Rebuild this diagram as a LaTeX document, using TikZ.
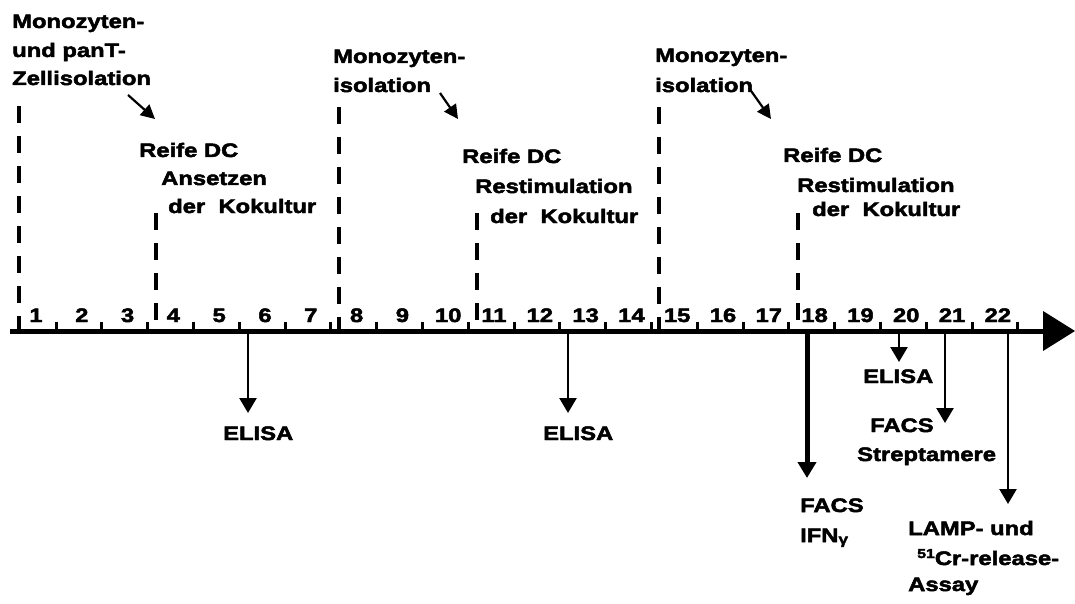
\documentclass[tikz,border=0pt]{standalone}
\usepackage{fontspec}
\newfontfamily\lab[FakeStretch=1.22,BoldFeatures={FakeBold=2.5}]{Liberation Sans}
\usetikzlibrary{arrows.meta}
\begin{document}
\begin{tikzpicture}[x=1pt,y=-1pt,
  txt/.style={anchor=base west,inner sep=0pt,font=\lab\bfseries\fontsize{19.5}{23}\selectfont},
  num/.style={anchor=base,inner sep=0pt,font=\lab\bfseries\fontsize{19.5}{23}\selectfont},
  dline/.style={line width=3.5pt,dash pattern=on 17pt off 13pt},
  tickl/.style={line width=3pt},
  darr/.style={line width=2.5pt,-{Triangle[width=17pt,length=15pt]}},
  thickarr/.style={line width=5pt,-{Triangle[width=18pt,length=16pt]}},
  diag/.style={line width=2.2pt,-{Triangle[width=14pt,length=14pt]}}]
\useasboundingbox[fill=white] (0,0) rectangle (1075,604);
% axis
\coordinate (axs) at (10,331);
\coordinate (axe) at (1045,331);
\draw[line width=5pt] (axs) -- (axe);
\fill (1043,311) -- (1075,331) -- (1043,351) -- cycle;
% ticks and numbers
\foreach \k in {1,...,22}{
  \pgfmathsetmacro{\tx}{56+45.8*(\k-1)}
  \draw[tickl] (\tx,322) -- (\tx,331);
  \node[num] (n\k) at (\tx-20,322) {\k};
}
% dashed lines
\foreach \x/\y/\nm in {19/106/da,339/107/db,659/107/dc,156/213/dd,477/213/de,798/213/df}{
  \coordinate (\nm t) at (\x,\y);
  \coordinate (\nm b) at (\x,331);
  \draw[dline] (\nm t) -- (\nm b);
}
% top labels group 1
\node[txt] (m1a) at (12,28) {Monozyten-};
\node[txt] (m1b) at (12,57) {und panT-};
\node[txt] (m1c) at (12,85) {Zellisolation};
\coordinate (p1s) at (128,95); \coordinate (p1e) at (155,119);
\draw[diag] (p1s) -- (p1e);
\node[txt] (r1a) at (139,157) {Reife DC};
\node[txt] (r1b) at (161,185) {Ansetzen};
\node[txt] (r1c) at (168,213) {der\ \ Kokultur};
% group 2
\node[txt] (m2a) at (333,63) {Monozyten-};
\node[txt] (m2b) at (333,92) {isolation};
\coordinate (p2s) at (440,93); \coordinate (p2e) at (458,119);
\draw[diag] (p2s) -- (p2e);
\node[txt] (r2a) at (462,163) {Reife DC};
\node[txt] (r2b) at (475,193) {Restimulation};
\node[txt] (r2c) at (490,223) {der\ \ Kokultur};
% group 3
\node[txt] (m3a) at (655,62) {Monozyten-};
\node[txt] (m3b) at (655,92) {isolation};
\coordinate (p3s) at (749,88); \coordinate (p3e) at (771,119);
\draw[diag] (p3s) -- (p3e);
\node[txt] (r3a) at (783,162) {Reife DC};
\node[txt] (r3b) at (797,192) {Restimulation};
\node[txt] (r3c) at (812,216) {der\ \ Kokultur};
% bottom arrows
\coordinate (b1s) at (248,331); \coordinate (b1e) at (248,413);
\draw[darr] (b1s) -- (b1e);
\node[txt] (el1) at (223,440) {ELISA};
\coordinate (b2s) at (568,331); \coordinate (b2e) at (568,413);
\draw[darr] (b2s) -- (b2e);
\node[txt] (el2) at (543,440) {ELISA};
\coordinate (b3s) at (807,331); \coordinate (b3e) at (807,478);
\draw[thickarr] (b3s) -- (b3e);
\node[txt] (f1a) at (800,512) {FACS};
\node[txt] (f1b) at (800,542) {IFN\raisebox{-2pt}{\fontsize{14}{14}\selectfont γ}};
\coordinate (b4s) at (899,331); \coordinate (b4e) at (899,362);
\draw[darr] (b4s) -- (b4e);
\node[txt] (el3) at (863,383) {ELISA};
\coordinate (b5s) at (945,331); \coordinate (b5e) at (945,423);
\draw[darr] (b5s) -- (b5e);
\node[txt] (f2a) at (870,432) {FACS};
\node[txt] (f2b) at (857,461) {Streptamere};
\coordinate (b6s) at (1008,331); \coordinate (b6e) at (1008,504);
\draw[darr] (b6s) -- (b6e);
\node[txt] (l1) at (908,535) {LAMP- und};
\node[txt] (l2) at (917,565) {\raisebox{7pt}{\fontsize{13}{13}\selectfont 51}Cr-release-};
\node[txt] (l3) at (908,591) {Assay};
\end{tikzpicture}
\end{document}
